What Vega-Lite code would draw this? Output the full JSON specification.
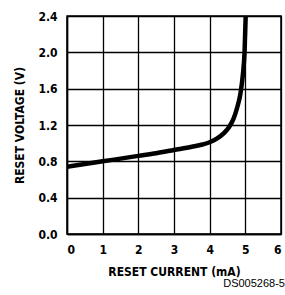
{
  "$schema": "https://vega.github.io/schema/vega-lite/v6.json",
  "width": 214,
  "height": 218,
  "autosize": {"type": "none"},
  "padding": {"left": 67, "top": 16, "right": 4, "bottom": 61},
  "background": "white",
  "config": {
    "view": {"stroke": "black", "strokeWidth": 1.5},
    "font": "DejaVu Sans Condensed, Liberation Sans, sans-serif"
  },
  "title": {
    "text": "DS005268-5",
    "orient": "bottom",
    "anchor": "end",
    "font": "Liberation Sans",
    "fontSize": 11,
    "fontWeight": "normal",
    "color": "black",
    "offset": 1,
    "dx": 4
  },
  "data": {
    "values": [
      {"i": 0, "v": 0.74},
      {"i": 0.5, "v": 0.77},
      {"i": 1, "v": 0.8},
      {"i": 1.5, "v": 0.83},
      {"i": 2, "v": 0.86},
      {"i": 2.5, "v": 0.89},
      {"i": 3, "v": 0.925},
      {"i": 3.5, "v": 0.96},
      {"i": 3.8, "v": 0.985},
      {"i": 4.0, "v": 1.01},
      {"i": 4.2, "v": 1.05},
      {"i": 4.4, "v": 1.11},
      {"i": 4.55, "v": 1.18},
      {"i": 4.67, "v": 1.27},
      {"i": 4.77, "v": 1.39},
      {"i": 4.86, "v": 1.54},
      {"i": 4.93, "v": 1.75},
      {"i": 4.98, "v": 2.02},
      {"i": 5.01, "v": 2.4}
    ]
  },
  "mark": {"type": "line", "color": "black", "strokeWidth": 4.5, "interpolate": "monotone", "clip": true},
  "encoding": {
    "x": {
      "field": "i", "type": "quantitative",
      "scale": {"domain": [0, 6], "nice": false},
      "axis": {
        "values": [0, 1, 2, 3, 4, 5, 6],
        "title": "RESET CURRENT (mA)",
        "titleFontSize": 12,
        "titleFontWeight": "bold",
        "titleColor": "black",
        "titlePadding": 11,
        "labelFontSize": 12,
        "labelFontWeight": "bold",
        "labelColor": "black",
        "labelPadding": 10,
        "ticks": false,
        "domainColor": "black",
        "domainWidth": 1.5,
        "grid": true,
        "gridColor": "black",
        "gridOpacity": 1,
        "gridWidth": 1.3
      }
    },
    "y": {
      "field": "v", "type": "quantitative",
      "scale": {"domain": [0, 2.4], "nice": false},
      "axis": {
        "values": [0, 0.4, 0.8, 1.2, 1.6, 2.0, 2.4],
        "format": ".1f",
        "title": "RESET VOLTAGE (V)",
        "titleFontSize": 12,
        "titleFontWeight": "bold",
        "titleColor": "black",
        "titlePadding": 11,
        "labelFontSize": 12,
        "labelFontWeight": "bold",
        "labelColor": "black",
        "labelPadding": 10,
        "ticks": false,
        "domainColor": "black",
        "domainWidth": 1.5,
        "grid": true,
        "gridColor": "black",
        "gridOpacity": 1,
        "gridWidth": 1.3
      }
    }
  }
}
